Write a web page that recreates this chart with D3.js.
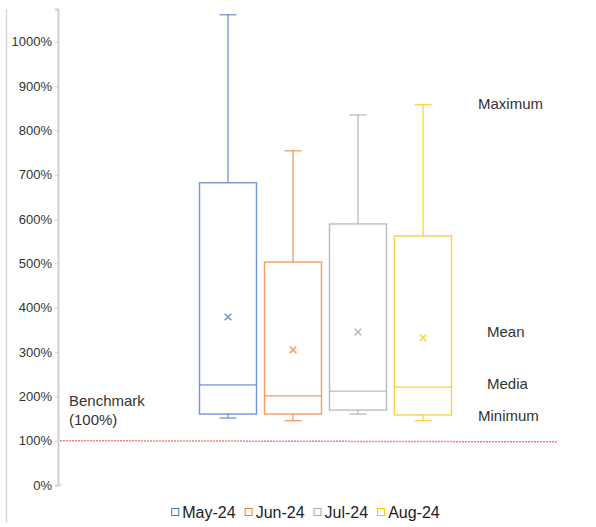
<!DOCTYPE html>
<html><head><meta charset="utf-8">
<script src="https://cdn.jsdelivr.net/npm/d3@7"></script>
<style>body{margin:0;background:#fff}svg{display:block}</style>
</head><body>
<svg id="c" width="596" height="527"></svg>
<script>
const series = ["May-24","Jun-24","Jul-24","Aug-24"];
const colors = ["#4472C4","#ED7D31","#A5A5A5","#FFC000"];
const minV  = [151, 145, 160, 145];
const q1V   = [160, 160, 169, 158];
const medV  = [226, 201, 212, 221];
const q3V   = [682, 503, 589, 562];
const maxV  = [1061, 754, 835, 858];
const meanV = [379, 305, 345, 332];
const yTicks = [0,100,200,300,400,500,600,700,800,900,1000];
const benchmark = 100;
const annotations = [
  {text:"Maximum", x:478, v:860},
  {text:"Mean", x:487, v:345},
  {text:"Media", x:487, v:228},
  {text:"Minimum", x:478, v:156}
];

const svg = d3.select("#c");
const font = "'Liberation Sans', Arial, sans-serif";
const y = d3.scaleLinear().domain([0, 1074]).range([485, 9]);
const x = d3.scaleBand().domain(series).range([199.5, 451.5]).paddingInner(0.123);

// left border
svg.append("line").attr("x1",6.5).attr("x2",6.5).attr("y1",9).attr("y2",523)
  .attr("stroke","#d9d9d9").attr("stroke-width",1.5);

// y axis
const ax = svg.append("g").attr("transform","translate(58,0)")
  .call(d3.axisLeft(y).tickValues(yTicks).tickFormat(d=>d+"%").tickSize(3).tickPadding(3));
ax.select(".domain").attr("stroke","#d0d0d0").attr("stroke-width",2);
ax.selectAll(".tick line").attr("stroke","#d0d0d0");
ax.selectAll("text").attr("font-family",font).attr("font-size",13).attr("fill","#333");
svg.append("line").attr("x1",58).attr("x2",62).attr("y1",y(0)).attr("y2",y(0))
  .attr("stroke","#d0d0d0").attr("stroke-width",1);

// benchmark line
svg.append("line").attr("x1",60).attr("x2",558).attr("y1",y(benchmark)).attr("y2",y(benchmark)+1.2)
  .attr("stroke","#f06060").attr("stroke-width",1.5).attr("stroke-dasharray","2,1").attr("opacity",0.8);

svg.append("text").attr("x",69).attr("y",406).attr("font-family",font).attr("font-size",15)
  .attr("fill","#333").text("Benchmark");
svg.append("text").attr("x",69).attr("y",425).attr("font-family",font).attr("font-size",15)
  .attr("fill","#333").text("(100%)");

// boxes
series.forEach((s,i)=>{
  const g = svg.append("g");
  const c = colors[i];
  const x0 = x(s), w = x.bandwidth(), cx = x0 + w/2;
  const cap = 8.5;
  const ln = (x1,x2,y1,y2)=>g.append("line").attr("x1",x1).attr("x2",x2).attr("y1",y1).attr("y2",y2)
    .attr("stroke",c).attr("stroke-width",1.3).attr("opacity",0.75);
  ln(cx,cx,y(maxV[i]),y(q3V[i]));
  ln(cx-cap,cx+cap,y(maxV[i]),y(maxV[i]));
  ln(cx,cx,y(q1V[i]),y(minV[i]));
  ln(cx-cap,cx+cap,y(minV[i]),y(minV[i]));
  g.append("rect").attr("x",x0).attr("y",y(q3V[i])).attr("width",w).attr("height",y(q1V[i])-y(q3V[i]))
    .attr("fill","none").attr("stroke",c).attr("stroke-width",1.4).attr("opacity",0.75);
  ln(x0,x0+w,y(medV[i]),y(medV[i]));
  const my = y(meanV[i]), r = 3.3;
  g.append("path").attr("d",`M${cx-r},${my-r}L${cx+r},${my+r}M${cx-r},${my+r}L${cx+r},${my-r}`)
    .attr("stroke",c).attr("stroke-width",1.5).attr("opacity",0.75);
});

// annotations
annotations.forEach(a=>{
  svg.append("text").attr("x",a.x).attr("y",y(a.v)).attr("dy","0.35em")
    .attr("font-family",font).attr("font-size",15).attr("fill","#333").text(a.text);
});

// legend (laid out sequentially, centred)
const leg = svg.append("g");
let cur = 0;
series.forEach((s,i)=>{
  const it = leg.append("g").attr("transform",`translate(${cur},0)`);
  it.append("rect").attr("x",0.5).attr("y",508.5).attr("width",7).attr("height",7)
    .attr("fill","none").attr("stroke",colors[i]).attr("stroke-width",1);
  const t = it.append("text").attr("x",11).attr("y",512).attr("dy","0.35em")
    .attr("font-family",font).attr("font-size",16).attr("fill","#222").text(s);
  cur += 11 + t.node().getComputedTextLength() + 9;
});
const total = cur - 9;
leg.attr("transform",`translate(${305.5 - total/2},0)`);
</script>
</body></html>
